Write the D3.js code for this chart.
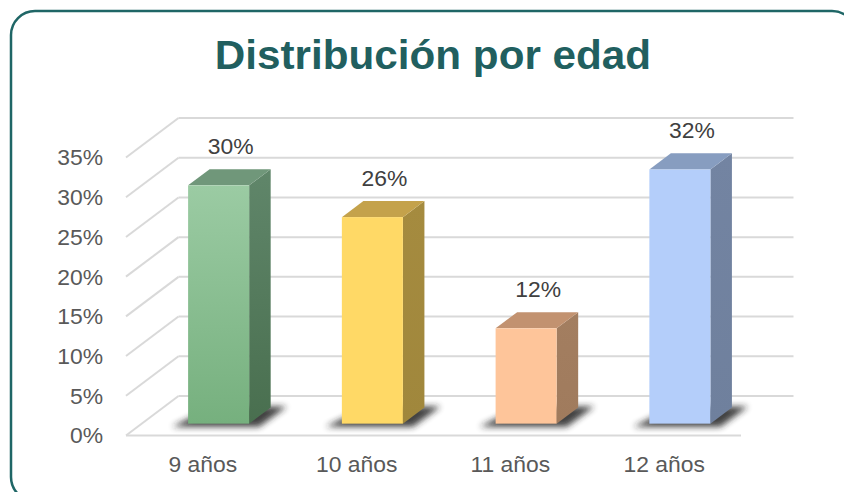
<!DOCTYPE html>
<html>
<head>
<meta charset="utf-8">
<script src="https://cdn.jsdelivr.net/npm/d3@7"></script>
<style>
  body { margin: 0; background: #fff; }
  svg { display: block; font-family: Arial, "Liberation Sans", sans-serif; }
</style>
</head>
<body>
<div id="chart"></div>
<script>
(function(){
  const categories = ["9 años", "10 años", "11 años", "12 años"];
  const values = [30, 26, 12, 32];
  const ticks = [0, 5, 10, 15, 20, 25, 30, 35];
  const frontColors = [["#9bcba3", "#76b07e"], ["#ffd966", "#ffd966"], ["#fec59a", "#fec59a"], ["#b4cefa", "#b4cefa"]];
  const sideColors = [["#60866a", "#496f4f"], ["#a58b3f", "#a0873c"], ["#a37e60", "#a07b5d"], ["#7384a2", "#6f809d"]];
  const topColors = ["#70977a", "#c4a24b", "#c29270", "#879dc0"];

  const width = 844, height = 492;
  const stretch = 1.04; // reference text runs slightly wide

  const svg = d3.select("#chart")
    .append("svg")
    .attr("width", width)
    .attr("height", height);

  const defs = svg.append("defs");
  defs.append("filter").attr("id", "blur")
    .attr("x", "-30%").attr("y", "-100%").attr("width", "160%").attr("height", "300%")
    .append("feGaussianBlur").attr("stdDeviation", 3);

  frontColors.forEach((c, i) => {
    const g = defs.append("linearGradient").attr("id", "front" + i)
      .attr("x1", 0).attr("y1", 0).attr("x2", 0).attr("y2", 1);
    g.append("stop").attr("offset", "0%").attr("stop-color", c[0]);
    g.append("stop").attr("offset", "100%").attr("stop-color", c[1]);
  });
  sideColors.forEach((c, i) => {
    const g = defs.append("linearGradient").attr("id", "side" + i)
      .attr("x1", 0).attr("y1", 0).attr("x2", 0).attr("y2", 1);
    g.append("stop").attr("offset", "0%").attr("stop-color", c[0]);
    g.append("stop").attr("offset", "100%").attr("stop-color", c[1]);
  });

  // frame
  svg.append("rect")
    .attr("x", 11).attr("y", 11)
    .attr("width", 845).attr("height", 490)
    .attr("rx", 24).attr("ry", 24)
    .attr("fill", "none")
    .attr("stroke", "#1f6666")
    .attr("stroke-width", 2.5);

  svg.append("text")
    .attr("transform", "translate(433,69) scale(1.03,1)")
    .attr("text-anchor", "middle")
    .attr("font-size", 41)
    .attr("font-weight", "bold")
    .attr("fill", "#215f5f")
    .text("Distribución por edad");

  // 3D geometry: front plane and depth offset of the floor
  const frontLeft = 126, frontRight = 741;
  const depthX = 52.5, depthY = -39.5;
  const d0 = 0.3, d1 = 0.71; // bar depth fraction

  const y = d3.scaleLinear().domain([0, 35]).range([435.5, 157.5]);
  const x = d3.scaleBand().domain(categories)
    .range([frontLeft, frontRight])
    .paddingInner(0.603).paddingOuter(0.3015);
  const xc = d3.scaleBand().domain(categories).range([frontLeft, frontRight]);

  // grid: back wall + left wall diagonals
  const grid = svg.append("g").attr("stroke", "#d9d9d9").attr("stroke-width", 2).attr("fill", "none");
  grid.selectAll("line.back")
    .data(ticks)
    .enter().append("line")
    .attr("class", "back")
    .attr("x1", frontLeft + depthX).attr("x2", frontRight + depthX)
    .attr("y1", d => y(d) + depthY).attr("y2", d => y(d) + depthY);
  grid.selectAll("line.side")
    .data(ticks)
    .enter().append("line")
    .attr("class", "side")
    .attr("x1", frontLeft).attr("x2", frontLeft + depthX)
    .attr("y1", d => y(d)).attr("y2", d => y(d) + depthY);
  grid.append("line")
    .attr("x1", frontLeft).attr("x2", frontRight)
    .attr("y1", y(0)).attr("y2", y(0));

  // y axis labels
  svg.append("g").selectAll("text")
    .data(ticks)
    .enter().append("text")
    .attr("transform", d => `translate(103,${y(d)}) scale(${stretch},1)`)
    .attr("dy", "0.36em")
    .attr("text-anchor", "end")
    .attr("font-size", 22)
    .attr("fill", "#595959")
    .text(d => d + "%");

  // x labels
  svg.append("g").selectAll("text")
    .data(categories)
    .enter().append("text")
    .attr("transform", d => `translate(${xc(d) + xc.bandwidth() / 2},472) scale(${stretch},1)`)
    .attr("text-anchor", "middle")
    .attr("font-size", 22)
    .attr("fill", "#595959")
    .text(d => d);

  const data = categories.map((c, i) => ({ cat: c, value: values[i], i }));
  const bw = x.bandwidth();
  const fx = d0 * depthX, fy = d0 * depthY;
  const bx = (d1 - d0) * depthX, by = (d1 - d0) * depthY;

  const bars = svg.append("g").selectAll("g")
    .data(data)
    .enter().append("g");

  // shadow on the floor
  bars.append("path")
    .attr("fill", "#222")
    .attr("opacity", 0.85)
    .attr("filter", "url(#blur)")
    .attr("d", d => {
      const l = x(d.cat) + fx, b = y(0) + fy;
      return `M${l - 16},${b + 3} L${l + bw + 10},${b + 3} L${l + bw + bx + 16},${b + by - 1} L${l + bx + 4},${b + by - 1} Z`;
    });

  bars.append("path")
    .attr("fill", d => `url(#side${d.i})`)
    .attr("d", d => {
      const r = x(d.cat) + fx + bw, b = y(0) + fy, t = y(d.value) + fy;
      return `M${r},${b} L${r + bx},${b + by} L${r + bx},${t + by} L${r},${t} Z`;
    });

  bars.append("path")
    .attr("fill", d => topColors[d.i])
    .attr("d", d => {
      const l = x(d.cat) + fx, t = y(d.value) + fy;
      return `M${l},${t} L${l + bw},${t} L${l + bw + bx},${t + by} L${l + bx},${t + by} Z`;
    });

  bars.append("rect")
    .attr("fill", d => `url(#front${d.i})`)
    .attr("x", d => x(d.cat) + fx)
    .attr("y", d => y(d.value) + fy)
    .attr("width", bw)
    .attr("height", d => y(0) - y(d.value));

  bars.append("text")
    .attr("transform", d => `translate(${x(d.cat) + fx + bw / 2 + 12},${y(d.value) + fy + by - 15}) scale(${stretch},1)`)
    .attr("text-anchor", "middle")
    .attr("font-size", 22)
    .attr("fill", "#404040")
    .text(d => d.value + "%");
})();
</script>
</body>
</html>
